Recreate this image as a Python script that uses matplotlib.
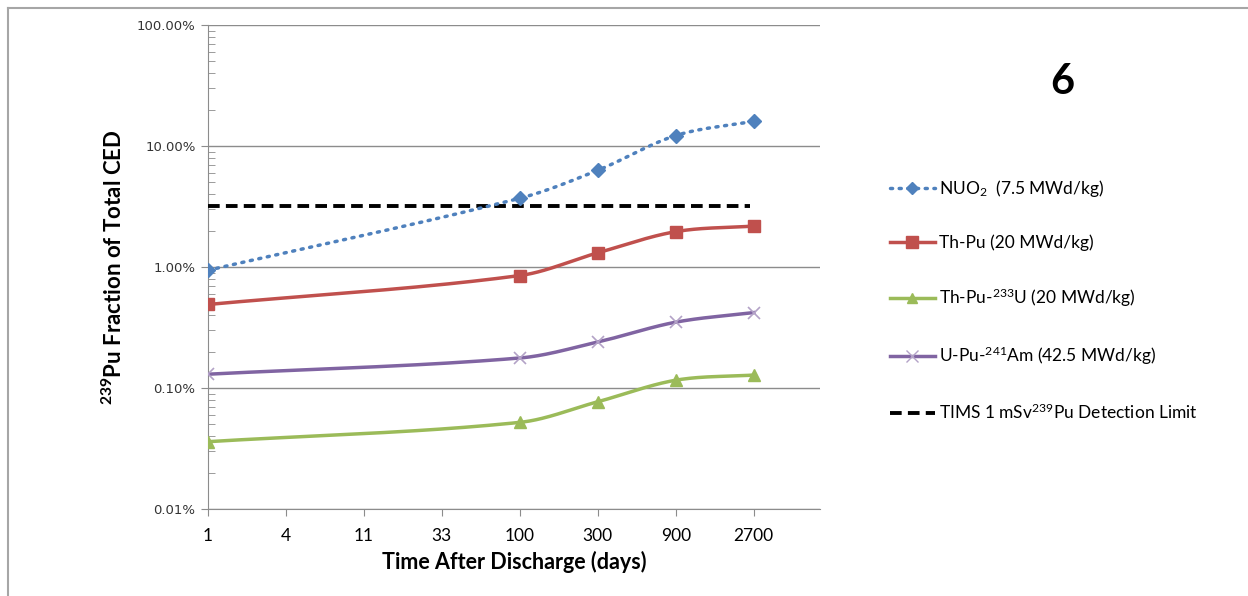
import numpy as np
import matplotlib
matplotlib.use("Agg")
import matplotlib.pyplot as plt
from matplotlib.ticker import FixedLocator, LogLocator, FuncFormatter, NullFormatter
from matplotlib.lines import Line2D

plt.rcParams['mathtext.default'] = 'regular'

# x categories (evenly spaced on the chart)
x_labels = ['1', '4', '11', '33', '100', '300', '900', '2700']
days = ['1', '100', '300', '900', '2700']

# 239Pu fraction of total CED (fractions)
nuo2 = [0.0094, 0.037, 0.063, 0.122, 0.160]
th_pu = [0.0049, 0.0085, 0.0131, 0.0196, 0.0218]
th_pu_u233 = [0.00036, 0.00052, 0.00077, 0.00116, 0.00128]
u_pu_am = [0.00130, 0.00177, 0.00240, 0.00350, 0.00420]
tims_limit = 0.032

series = [
    ("NUO$_2$  (7.5 MWd/kg)", nuo2, '#4F81BD', 'D', ':', 7),
    ("Th-Pu (20 MWd/kg)", th_pu, '#C0504D', 's', '-', 9),
    ("Th-Pu-$^{233}$U (20 MWd/kg)", th_pu_u233, '#9BBB59', '^', '-', 8),
    ("U-Pu-$^{241}$Am (42.5 MWd/kg)", u_pu_am, '#8064A2', 'x', '-', 9),
]


def smooth(xs, ys, n=40):
    # cubic hermite curve in (index, log10 y) space, close to Excel's smoothed line
    xs = np.asarray(xs, float)
    ly = np.log10(ys)
    m = np.zeros(len(xs))
    m[0] = (ly[1] - ly[0]) / (xs[1] - xs[0])
    m[-1] = (ly[-1] - ly[-2]) / (xs[-1] - xs[-2])
    for i in range(1, len(xs) - 1):
        m[i] = (ly[i + 1] - ly[i - 1]) / (xs[i + 1] - xs[i - 1])
    ox, oy = [], []
    for i in range(len(xs) - 1):
        h = xs[i + 1] - xs[i]
        t = np.linspace(0, 1, n)
        h00 = 2 * t ** 3 - 3 * t ** 2 + 1
        h10 = t ** 3 - 2 * t ** 2 + t
        h01 = -2 * t ** 3 + 3 * t ** 2
        h11 = t ** 3 - t ** 2
        ox.extend(xs[i] + t * h)
        oy.extend(h00 * ly[i] + h10 * h * m[i] + h01 * ly[i + 1] + h11 * h * m[i + 1])
    return np.array(ox), 10 ** np.array(oy)


fig = plt.figure(figsize=(12.48, 5.96), dpi=100)
ax = fig.add_axes([208 / 1248, 1 - 509 / 596, 612 / 1248, 484 / 596])

xi = [x_labels.index(d) for d in days]

ax.plot([0, 6.95], [tims_limit, tims_limit], color='black', lw=2.8, ls=(0, (3, 1.6)), zorder=3)

handles = []
for label, vals, color, mk, ls, ms in series:
    sx, sy = smooth(xi, vals)
    if ls == ':':
        ax.plot(sx, sy, color=color, lw=2.5, ls=(0, (0.6, 1.9)), dash_capstyle='round', zorder=4)
    else:
        ax.plot(sx, sy, color=color, lw=2.5, zorder=4)
    mcolor = '#B3A2C7' if mk == 'x' else color
    ax.plot(xi, vals, ls='none', marker=mk, ms=ms, color=mcolor, mec=mcolor,
            mew=1.2 if mk == 'x' else 1, zorder=5)
    handles.append(Line2D([], [], color=color, lw=2.5,
                          ls=(0, (0.6, 1.9)) if ls == ':' else '-',
                          dash_capstyle='round', marker=mk, ms=ms - 1,
                          mfc=mcolor, mec=mcolor, label=label))
handles.append(Line2D([], [], color='black', lw=2.8, ls=(0, (3, 1.6)),
                      label="TIMS 1 mSv$^{239}$Pu Detection Limit"))

ax.set_yscale('log')
ax.set_ylim(1e-4, 1)
ax.set_xlim(0, 7.85)
ax.yaxis.set_major_locator(FixedLocator([1e-4, 1e-3, 1e-2, 1e-1, 1]))
ax.yaxis.set_major_formatter(FuncFormatter(lambda v, p: f"{v * 100:.2f}%"))
ax.yaxis.set_minor_locator(LogLocator(base=10, subs=np.arange(2, 10)))
ax.yaxis.set_minor_formatter(NullFormatter())
ax.set_xticks(range(len(x_labels)))
ax.set_xticklabels(x_labels, fontfamily='Lato', fontsize=12.5)

ax.grid(axis='y', which='major', color='#8C8C8C', lw=1)
ax.set_axisbelow(True)
for s in ['top', 'right']:
    ax.spines[s].set_visible(False)
for s in ['left', 'bottom']:
    ax.spines[s].set_color('#8C8C8C')
ax.tick_params(axis='y', which='major', direction='out', length=5, color='#8C8C8C',
               labelsize=9.5, labelcolor='#333333', pad=4)
ax.tick_params(axis='y', which='minor', direction='in', length=5, color='#8C8C8C')
ax.tick_params(axis='x', direction='out', length=5, color='#8C8C8C', pad=9)
for t in ax.get_yticklabels():
    t.set_fontfamily('DejaVu Sans')

ax.set_xlabel("Time After Discharge (days)", fontfamily='Lato', fontweight='bold',
              fontsize=15.5, labelpad=5)
ax.set_ylabel("$^{239}$Pu Fraction of Total CED", fontfamily='Lato', fontweight='bold',
              fontsize=16, labelpad=8)

fig.text(1062 / 1248, 1 - 82 / 596, "6", fontsize=30, fontweight='bold',
         fontfamily='Lato', ha='center', va='center')

fig.legend(handles=handles, loc='upper left', bbox_to_anchor=(874 / 1248, 1 - 162 / 596),
           frameon=False, prop={'family': 'Lato', 'size': 12.5}, handlelength=2.6,
           labelspacing=2.05, handletextpad=0.25)

# chart border (left and top edges visible)
fig.add_artist(Line2D([8 / 1248, 8 / 1248], [0, 1 - 8 / 596], transform=fig.transFigure,
                      color='#A6A6A6', lw=1.5))
fig.add_artist(Line2D([8 / 1248, 1], [1 - 8 / 596, 1 - 8 / 596], transform=fig.transFigure,
                      color='#A6A6A6', lw=1.5))

fig.savefig("out.png", dpi=100)
